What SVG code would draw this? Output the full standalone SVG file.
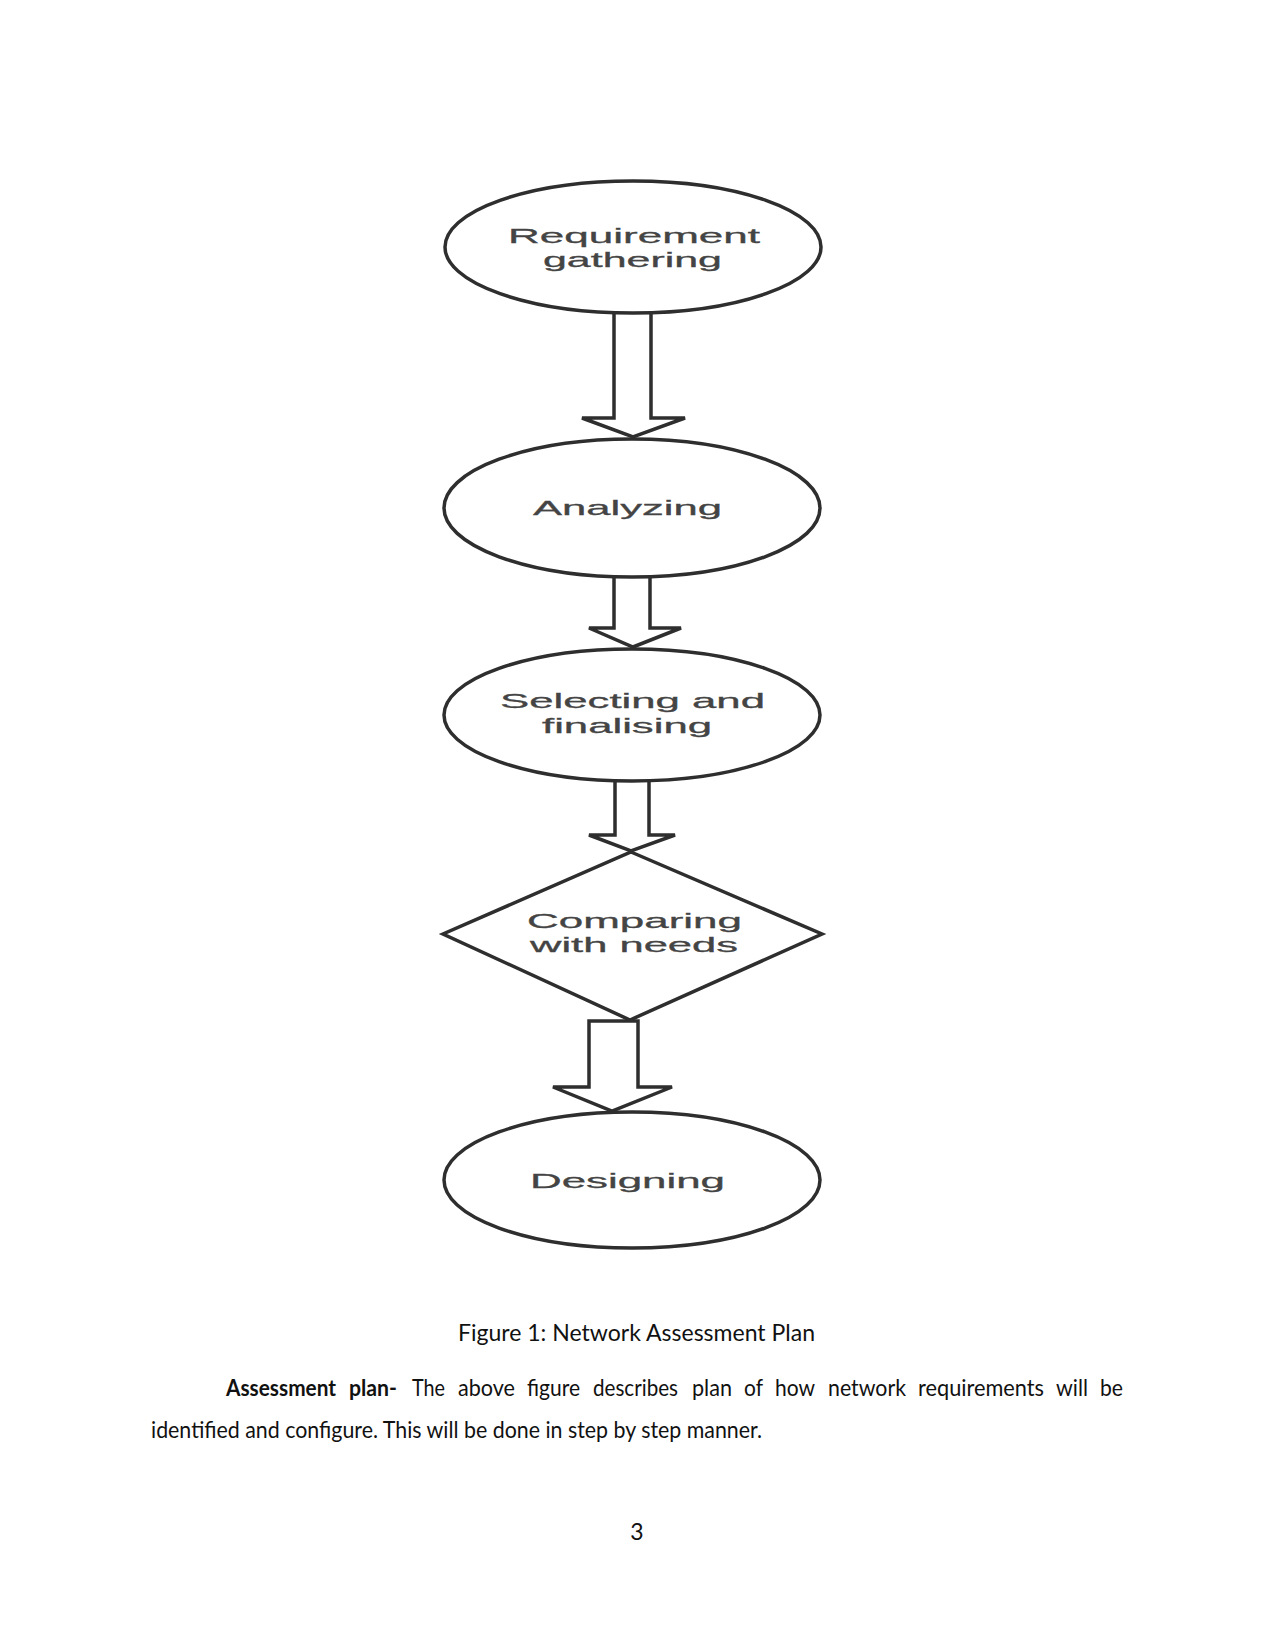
<svg xmlns="http://www.w3.org/2000/svg" width="1275" height="1650" viewBox="0 0 1275 1650">
<style>
.node{fill:#fff;stroke:#2e2e2e;stroke-width:3.5}
.arrow{fill:#fff;stroke:#2e2e2e;stroke-width:3.5;stroke-linejoin:miter}
.lbl{font-family:"Liberation Sans",Arial,sans-serif;font-size:21px;fill:#444;stroke:#444;stroke-width:0.3}
.doc{font-family:Lato,"Open Sans",sans-serif;font-size:23px;fill:#111}
.b{font-weight:bold}
</style>
<rect width="1275" height="1650" fill="#fff"/>
<g id="connectors">
<path class="arrow" d="M614,312 V418 H582 L633,437 L685,418 H651 V312"/>
<path class="arrow" d="M614,576 V628 H589 L633,647 L681,628 H650 V576"/>
<path class="arrow" d="M615,780 V835 H589 L631,851 L675,835 H649 V780"/>
<path class="arrow" d="M589,1021 V1087 H553 L612,1111 L672,1087 H638 V1021 Z"/>
</g>
<g id="n1"><ellipse class="node" cx="633" cy="247" rx="188" ry="66"/>
<text class="lbl" x="508" y="243" textLength="252" lengthAdjust="spacingAndGlyphs">Requirement</text>
<text class="lbl" x="543" y="267" textLength="179" lengthAdjust="spacingAndGlyphs">gathering</text></g>
<g id="n2"><ellipse class="node" cx="632" cy="508" rx="188" ry="69"/>
<text class="lbl" x="533" y="515" textLength="189" lengthAdjust="spacingAndGlyphs">Analyzing</text></g>
<g id="n3"><ellipse class="node" cx="632" cy="715" rx="188" ry="66"/>
<text class="lbl" x="500" y="708" textLength="265" lengthAdjust="spacingAndGlyphs">Selecting and</text>
<text class="lbl" x="542" y="733" textLength="170" lengthAdjust="spacingAndGlyphs">finalising</text></g>
<g id="n4"><polygon class="node" points="631,852 822,934 630,1020 443,934"/>
<text class="lbl" x="527" y="928" textLength="215" lengthAdjust="spacingAndGlyphs">Comparing</text>
<text class="lbl" x="530" y="952" textLength="208" lengthAdjust="spacingAndGlyphs">with needs</text></g>
<g id="n5"><ellipse class="node" cx="632" cy="1180" rx="188" ry="68"/>
<text class="lbl" x="530" y="1188" textLength="195" lengthAdjust="spacingAndGlyphs">Designing</text></g>
<text class="doc" x="458" y="1341" font-size="24" textLength="357" lengthAdjust="spacingAndGlyphs">Figure 1: Network Assessment Plan</text>
<g id="paragraph">
<text class="doc b" x="226" y="1396" textLength="110" lengthAdjust="spacingAndGlyphs">Assessment</text>
<text class="doc b" x="349" y="1396" textLength="48" lengthAdjust="spacingAndGlyphs">plan-</text>
<text class="doc" x="412" y="1396" textLength="33" lengthAdjust="spacingAndGlyphs">The</text>
<text class="doc" x="458" y="1396" textLength="57" lengthAdjust="spacingAndGlyphs">above</text>
<text class="doc" x="527" y="1396" textLength="53" lengthAdjust="spacingAndGlyphs">figure</text>
<text class="doc" x="593" y="1396" textLength="85" lengthAdjust="spacingAndGlyphs">describes</text>
<text class="doc" x="692" y="1396" textLength="40" lengthAdjust="spacingAndGlyphs">plan</text>
<text class="doc" x="744" y="1396" textLength="19" lengthAdjust="spacingAndGlyphs">of</text>
<text class="doc" x="775" y="1396" textLength="40" lengthAdjust="spacingAndGlyphs">how</text>
<text class="doc" x="828" y="1396" textLength="78" lengthAdjust="spacingAndGlyphs">network</text>
<text class="doc" x="918" y="1396" textLength="126" lengthAdjust="spacingAndGlyphs">requirements</text>
<text class="doc" x="1056" y="1396" textLength="32" lengthAdjust="spacingAndGlyphs">will</text>
<text class="doc" x="1100" y="1396" textLength="23" lengthAdjust="spacingAndGlyphs">be</text>
<text class="doc" x="151" y="1438" textLength="611" lengthAdjust="spacingAndGlyphs">identified and configure. This will be done in step by step manner.</text>
</g>
<text class="doc" x="637" y="1540" text-anchor="middle">3</text>
</svg>
